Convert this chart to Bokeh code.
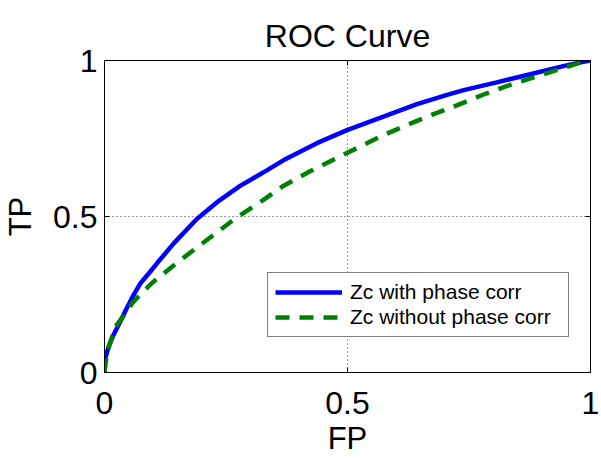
from bokeh.plotting import figure
from bokeh.models import FixedTicker, LinearAxis, Legend, LegendItem, Range1d
from bokeh.embed import file_html
from bokeh.resources import INLINE

# ---- data ----
fp_with = [0, 0.002, 0.009, 0.019, 0.033, 0.046, 0.06, 0.074, 0.094, 0.108, 0.142, 0.19, 0.231,
           0.279, 0.30, 0.334, 0.368, 0.437, 0.499, 0.574, 0.643, 0.705, 0.739, 0.807, 0.876,
           0.944, 0.985, 1.0]
tp_with = [0, 0.048, 0.085, 0.122, 0.165, 0.207, 0.249, 0.286, 0.323, 0.350, 0.413, 0.492, 0.545,
           0.598, 0.617, 0.648, 0.680, 0.735, 0.777, 0.820, 0.860, 0.890, 0.905, 0.930, 0.956,
           0.982, 0.996, 1.0]

fp_without = [0, 0.002, 0.008, 0.022, 0.046, 0.057, 0.067, 0.097, 0.139, 0.187, 0.228, 0.272, 0.327,
              0.368, 0.423, 0.471, 0.519, 0.574, 0.622, 0.677, 0.725, 0.78, 0.835, 0.89, 0.944,
              0.985, 1.0]
tp_without = [0, 0.03, 0.077, 0.146, 0.196, 0.222, 0.239, 0.286, 0.339, 0.397, 0.445, 0.497, 0.553,
              0.598, 0.645, 0.682, 0.719, 0.761, 0.793, 0.828, 0.856, 0.891, 0.922, 0.949, 0.976,
              0.996, 1.0]

tick_values = [0, 0.5, 1]
tick_labels = ["0", "0.5", "1"]
grid_values = [0.5]
series_names = ["Zc with phase corr", "Zc without phase corr"]
title_text = "ROC Curve"
x_label = "FP"
y_label = "TP"

FONT = "Liberation Sans"

p = figure(width=601, height=458, output_backend="svg", toolbar_location=None,
           x_range=Range1d(0, 1), y_range=Range1d(0, 1),
           min_border_left=104, min_border_right=11, min_border_top=60, min_border_bottom=83,
           title=title_text)

p.title.text_font = FONT
p.title.text_font_size = "32px"
p.title.text_font_style = "normal"
p.title.align = "center"
p.title.vertical_align = "top"
p.title.text_color = "black"
p.title.standoff = 10

p.outline_line_color = "black"
p.outline_line_width = 1
p.outline_line_alpha = 1

overrides = {v: l for v, l in zip(tick_values, tick_labels)}
for ax in (p.xaxis[0], p.yaxis[0]):
    ax.ticker = FixedTicker(ticks=tick_values)
    ax.major_label_overrides = overrides
    ax.major_label_text_font = FONT
    ax.major_label_text_font_size = "32px"
    ax.major_label_text_color = "black"
    ax.axis_label_text_font = FONT
    ax.axis_label_text_font_size = "31px"
    ax.axis_label_text_font_style = "normal"
    ax.axis_label_text_color = "black"
    ax.major_tick_in = 5
    ax.major_tick_out = 0
    ax.minor_tick_line_color = None
    ax.axis_line_color = "black"
    ax.major_tick_line_color = "black"

p.xaxis[0].axis_label = x_label
p.yaxis[0].axis_label = y_label
p.xaxis[0].major_label_standoff = 19
p.xaxis[0].axis_label_standoff = 4
p.yaxis[0].major_label_standoff = 7
p.yaxis[0].axis_label_standoff = 12

# tick marks on the top and right of the box
def tick_only_axis():
    return LinearAxis(ticker=FixedTicker(ticks=tick_values), major_label_text_font_size="0px",
                      major_tick_in=5, major_tick_out=0, minor_tick_line_color=None,
                      axis_line_color="black", major_tick_line_color="black",
                      major_label_standoff=0)

top_axis = tick_only_axis()
right_axis = tick_only_axis()
p.add_layout(right_axis, "right")
p.add_layout(top_axis, "above")
# keep the tick-only top axis next to the frame, title outside it
p.above = [top_axis] + [obj for obj in p.above if obj is not top_axis]

for g in (p.xgrid[0], p.ygrid[0]):
    g.ticker = FixedTicker(ticks=grid_values)
    g.grid_line_color = "black"
    g.grid_line_dash = "1 3"
    g.grid_line_alpha = 0.8
    g.grid_line_width = 1

r1 = p.line(fp_with, tp_with, line_color="#0000FF", line_width=4.5)
r2 = p.line(fp_without, tp_without, line_color="#008000", line_width=4.5, line_dash="14 10")

legend = Legend(items=[LegendItem(label=series_names[0], renderers=[r1]),
                       LegendItem(label=series_names[1], renderers=[r2])],
                location=(163, 35))
legend.label_text_font = FONT
legend.label_text_font_size = "21px"
legend.label_text_color = "black"
legend.glyph_width = 67
legend.glyph_height = 20
legend.label_height = 20
legend.label_width = 211
legend.label_standoff = 8
legend.spacing = 1
legend.padding = 7
legend.margin = 0
legend.border_line_color = "black"
legend.border_line_width = 1
legend.background_fill_color = "white"
legend.background_fill_alpha = 1
p.add_layout(legend, "center")

open("out.html", "w").write(file_html(p, INLINE))
